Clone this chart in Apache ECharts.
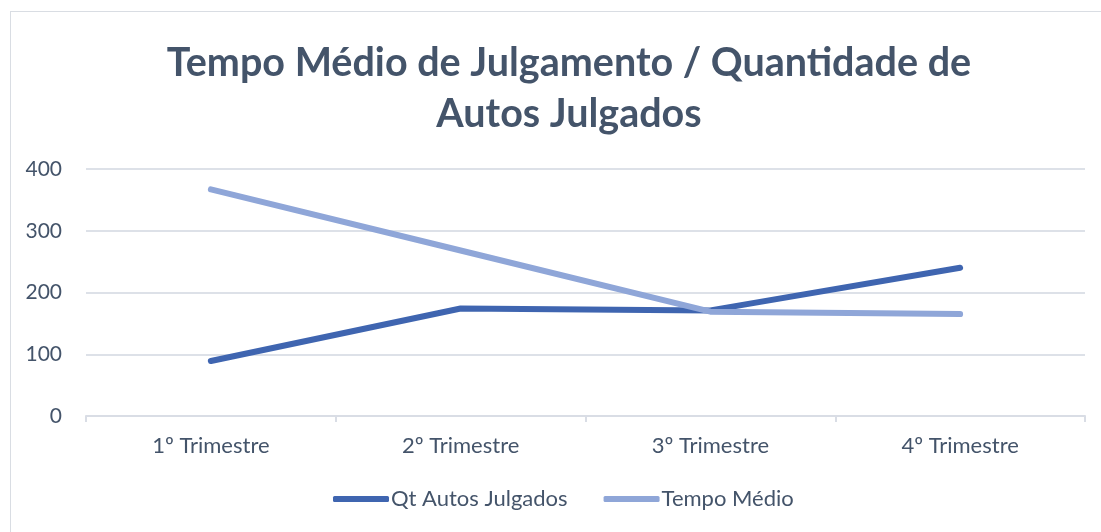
<!DOCTYPE html>
<html>
<head>
<meta charset="utf-8">
<script src="https://cdn.jsdelivr.net/npm/echarts@6/dist/echarts.min.js"></script>
<style>
  html, body { margin: 0; padding: 0; background: #fff; }
  #frame { position: absolute; left: 10px; top: 11px; width: 1100px; height: 530px; border: 1px solid #D9DDE3; box-sizing: border-box; }
  #chart { position: absolute; left: 0; top: 0; width: 1101px; height: 532px; }
</style>
</head>
<body>
<div id="frame"></div>
<div id="chart"></div>
<script>
// dados do gráfico
const categories = ['1º Trimestre', '2º Trimestre', '3º Trimestre', '4º Trimestre']
const qtAutosJulgados = [89, 174, 171, 240]
const tempoMedio = [367, 268, 169, 165]
const yTicks = [0, 100, 200, 300, 400]

const textColor = '#44546A'
const chart = echarts.init(document.getElementById('chart'))

const option = {
  animation: false,
  title: {
    text: 'Tempo Médio de Julgamento / Quantidade de\nAutos Julgados',
    left: 564,
    textAlign: 'center',
    top: 33,
    textStyle: {
      fontFamily: 'Lato',
      fontWeight: 'bold',
      fontSize: 39.5,
      lineHeight: 51,
      color: textColor
    }
  },
  legend: {
    bottom: 17,
    left: 328,
    itemWidth: 56,
    itemHeight: 6,
    itemGap: 36,
    icon: 'roundRect',
    textStyle: { fontFamily: 'Lato', fontSize: 22, color: textColor, padding: [0, 0, 0, -3] },
    data: ['Qt Autos Julgados', 'Tempo Médio']
  },
  grid: { left: 86, right: 16, top: 169, bottom: 116 },
  xAxis: {
    type: 'category',
    data: categories,
    axisLine: { lineStyle: { color: '#D9DDE5', width: 2 } },
    axisTick: { show: true, length: 6, lineStyle: { color: '#D9DDE5', width: 2 } },
    axisLabel: { fontFamily: 'Lato', fontSize: 22, color: textColor, margin: 19 }
  },
  yAxis: {
    type: 'value',
    min: yTicks[0],
    max: yTicks[yTicks.length - 1],
    interval: 100,
    axisLine: { show: false },
    axisTick: { show: false },
    splitLine: { lineStyle: { color: '#DDE1E8', width: 2 } },
    axisLabel: { fontFamily: 'Lato', fontSize: 21, color: textColor, margin: 24 }
  },
  series: [
    {
      name: 'Qt Autos Julgados',
      type: 'line',
      data: qtAutosJulgados,
      symbol: 'none',
      color: '#3F65B0',
      lineStyle: { width: 6, color: '#3F65B0', cap: 'round', join: 'round' }
    },
    {
      name: 'Tempo Médio',
      type: 'line',
      data: tempoMedio,
      symbol: 'none',
      color: '#8FA6D8',
      lineStyle: { width: 6, color: '#8FA6D8', cap: 'round', join: 'round' }
    }
  ]
}

chart.setOption(option)
</script>
</body>
</html>
